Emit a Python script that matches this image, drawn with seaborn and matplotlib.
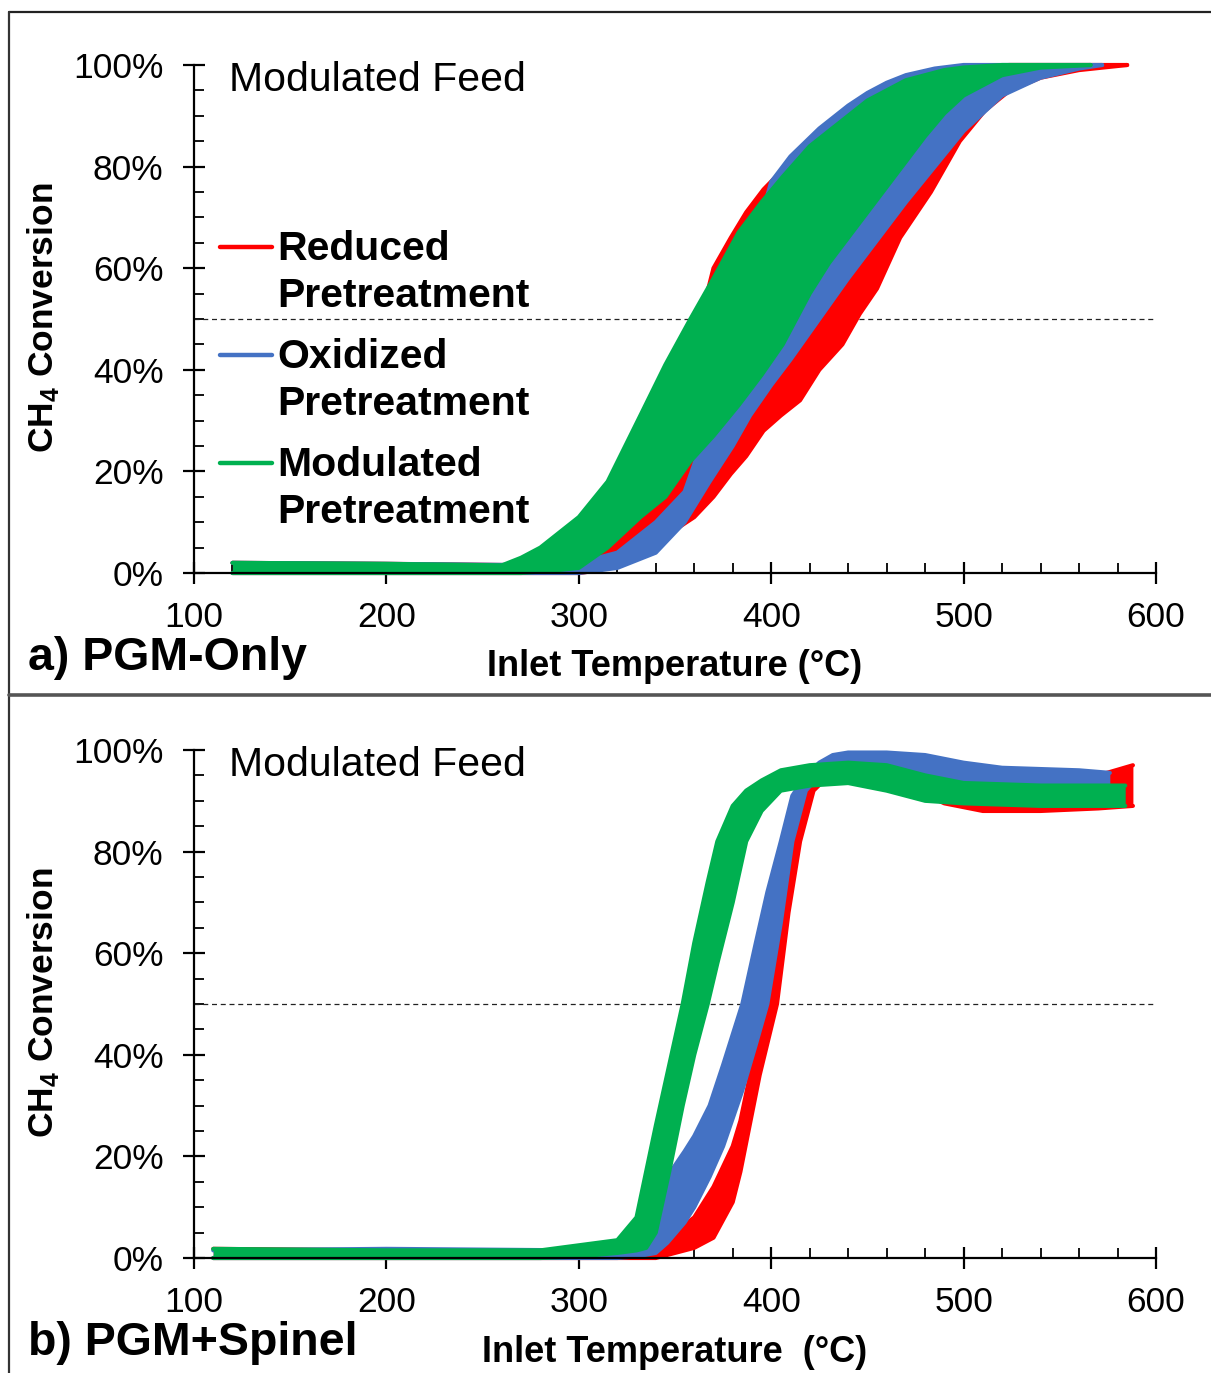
import numpy as np
import pandas as pd
import matplotlib
matplotlib.use("Agg")
import matplotlib.pyplot as plt
from matplotlib.lines import Line2D
from matplotlib.ticker import MultipleLocator, PercentFormatter
import seaborn as sns

# ---- data: CH4 conversion (%) under modulated feed, lower / upper envelope of the oscillation ----
# Panel a) PGM-only
a_red_T  = [120, 200, 280, 300, 310, 320, 330, 340, 350, 360, 370, 379, 387, 396, 405, 415, 425, 437, 446, 455, 467, 483, 498, 511, 524, 540, 560, 585]
a_red_lo = [0, 0, 0, 0, 0.5, 2, 4, 6, 8.5, 11, 15, 19.5, 23, 28, 31, 34, 40, 45, 51, 56, 66, 75, 85, 91, 95, 97.5, 99, 100]
a_red_hi = [2, 1.8, 1.5, 2, 4, 8, 12, 18, 30, 45, 60, 66, 71, 75.5, 79, 83, 86.5, 90, 92, 93.5, 96, 98, 99.3, 99.8, 100, 100, 100, 100]

a_blue_T  = [120, 200, 290, 300, 320, 340, 355, 368, 380, 389, 400, 410, 425, 440, 450, 460, 470, 485, 500, 520, 540, 560, 572]
a_blue_lo = [0, 0, 0, 0, 1, 4, 10, 18, 25, 31, 37, 42, 50, 58, 63, 68, 73, 80, 87, 94, 97.5, 99.3, 100]
a_blue_hi = [2, 1.8, 1.5, 2, 4, 10, 16, 30, 48, 62, 77, 82, 87.5, 92, 94.5, 96.5, 98, 99.3, 100, 100, 100, 100, 100]

a_green_T  = [120, 200, 260, 270, 280, 290, 300, 315, 332, 345, 358, 370, 383, 395, 406, 420, 430, 440, 450, 460, 470, 480, 490, 500, 520, 540, 566]
a_green_lo = [0, 0, 0, 0, 0.3, 0.6, 1, 5, 11, 15, 22, 27, 33, 39, 45, 55, 61, 66, 71, 76, 81, 86, 90.5, 94, 98, 99.5, 100]
a_green_hi = [2, 1.8, 1.5, 3, 5, 8, 11, 18, 31, 41, 50, 58, 67, 73, 78, 84, 87, 90, 93, 95, 97, 98, 99, 99.5, 100, 100, 100]

# Panel b) PGM+Spinel
b_red_T  = [110, 200, 300, 330, 340, 350, 360, 370, 380, 384, 394, 403, 409, 415, 422, 430, 450, 470, 490, 510, 540, 570, 588]
b_red_lo = [0, 0, 0, 0, 0, 1, 2, 4, 11, 17, 36, 50, 68, 82, 92, 95, 94.5, 93, 89.5, 88, 88, 88.5, 89]
b_red_hi = [1.8, 1.5, 1.5, 1.5, 3, 5, 8, 14, 22, 27, 45, 60, 76, 88, 95, 98, 98.5, 97.5, 95.5, 95, 94.5, 95, 97]

b_blue_T  = [110, 200, 300, 320, 330, 340, 346, 355, 360, 368, 375, 385, 392, 398, 405, 411, 418, 425, 432, 440, 460, 480, 500, 520, 560, 576]
b_blue_lo = [0, 0, 0, 0, 0.3, 1, 3, 7, 10, 16, 22, 33, 42, 50, 66, 82, 92, 95, 96.5, 96.5, 96, 95, 93.5, 93, 92.5, 92]
b_blue_hi = [1.5, 1.8, 1.5, 2, 3, 10, 16, 21, 24, 30, 38, 50, 62, 72, 82, 91, 95, 97.5, 99, 99.5, 99.5, 99, 97.5, 96.5, 96, 95.5]

b_green_T  = [110, 200, 280, 300, 320, 330, 335, 340, 347, 354, 360, 367, 372, 380, 387, 395, 405, 420, 440, 460, 480, 500, 540, 584]
b_green_lo = [0, 0, 0, 0.3, 1, 1.5, 2, 5, 17, 30, 40, 50, 58, 70, 82, 88, 92, 93, 93.5, 92, 90, 89.5, 89, 89]
b_green_hi = [1.8, 1.5, 1.5, 2.5, 3.5, 8, 17, 26, 38, 50, 62, 74, 82, 89, 92, 94, 96, 97, 97.5, 97, 95, 93.5, 93, 93]

series_names = ["Reduced\nPretreatment", "Oxidized\nPretreatment", "Modulated\nPretreatment"]
series_colors = ["#FF0000", "#4472C4", "#00B050"]
panel_titles = ["a) PGM-Only", "b) PGM+Spinel"]
xlabels = ["Inlet Temperature (°C)", "Inlet Temperature  (°C)"]
feed_label = "Modulated Feed"

panels = [
    [(a_red_T, a_red_lo, a_red_hi), (a_blue_T, a_blue_lo, a_blue_hi), (a_green_T, a_green_lo, a_green_hi)],
    [(b_red_T, b_red_lo, b_red_hi), (b_blue_T, b_blue_lo, b_blue_hi), (b_green_T, b_green_lo, b_green_hi)],
]

# ---- styling ----
sns.set_theme(style="white")
plt.rcParams["font.family"] = ["Liberation Sans", "DejaVu Sans"]
plt.rcParams["mathtext.fontset"] = "custom"
plt.rcParams["mathtext.rm"] = "Liberation Sans"
plt.rcParams["mathtext.bf"] = "Liberation Sans:bold"
for key in ("text.color", "axes.labelcolor", "xtick.color", "ytick.color", "axes.edgecolor"):
    plt.rcParams[key] = "black"

W, H = 1211, 1373
fig = plt.figure(figsize=(W / 100, H / 100), dpi=100)

ax_left = 194 / W
ax_width = 962 / W
ax_height = 508 / H
bottoms = [1 - 573 / H, 1 - 1258 / H]

for p, (bands, bottom) in enumerate(zip(panels, bottoms)):
    ax = fig.add_axes([ax_left, bottom, ax_width, ax_height])
    ax.set_xlim(100, 600)
    ax.set_ylim(0, 100)

    # 50 % conversion guide
    ax.axhline(50, color="#222222", lw=0.9, ls=(0, (4, 3)), zorder=1)

    for (T, lo, hi), color, name in zip(bands, series_colors, series_names):
        df = pd.DataFrame({"T": T, "lo": lo, "hi": hi})
        ax.fill_between(df["T"], df["lo"], df["hi"], color=color, lw=0, zorder=2, clip_on=False)
        for col in ("lo", "hi"):
            sns.lineplot(data=df, x="T", y=col, ax=ax, color=color, lw=3.0,
                         estimator=None, sort=False, legend=False, zorder=2,
                         solid_capstyle="round", solid_joinstyle="round", clip_on=False)

    ax.set_xlabel("")
    ax.set_ylabel("")
    for s in ("top", "right"):
        ax.spines[s].set_visible(False)
    for s in ("left", "bottom"):
        ax.spines[s].set_color("black")
        ax.spines[s].set_linewidth(1.6)

    ax.xaxis.set_major_locator(MultipleLocator(100))
    ax.xaxis.set_minor_locator(MultipleLocator(20))
    ax.yaxis.set_major_locator(MultipleLocator(20))
    ax.yaxis.set_minor_locator(MultipleLocator(5))
    ax.yaxis.set_major_formatter(PercentFormatter(decimals=0))
    ax.tick_params(which="major", direction="inout", length=16, width=1.6, color="black",
                   labelsize=25.5, labelcolor="black")
    ax.tick_params(which="minor", direction="in", length=7, width=1.3, color="black")
    ax.tick_params(axis="y", which="major", pad=14, left=True)
    ax.tick_params(axis="x", which="major", pad=12, bottom=True)
    ax.tick_params(axis="both", which="minor", left=True, bottom=True)

    ax.text(118, 97, feed_label, fontsize=29.5, va="center", ha="left", color="black")

    if p == 0:
        # legend: short strokes beside two-line labels, first line level with the stroke
        for k, (color, name) in enumerate(zip(series_colors, series_names)):
            yl = [0.642, 0.429, 0.2165][k]
            ax.add_line(Line2D([0.027, 0.081], [yl, yl], transform=ax.transAxes,
                               color=color, lw=3.2, clip_on=False))
            ax.text(0.0863, yl + 0.033, name, transform=ax.transAxes, fontsize=29.5,
                    fontweight="bold", va="top", ha="left", linespacing=1.3,
                    color="black")

    top_px = 573 if p == 0 else 1258
    fig.text(675 / W, 1 - (top_px + 94) / H, xlabels[p], fontsize=26, fontweight="bold",
             ha="center", va="center", color="black")
    fig.text(28 / W, 1 - (top_px + 85) / H, panel_titles[p], fontsize=33.5, fontweight="bold",
             ha="left", va="center", color="black")
    fig.text(43 / W, 1 - (top_px - 255) / H, r"CH$_\mathbf{4}$ Conversion", fontsize=25.5,
             fontweight="bold", rotation=90, ha="center", va="center", color="black")

# outer frame and panel separator
fig.add_artist(Line2D([9 / W, 1], [1 - 12 / H, 1 - 12 / H], color="#222222", lw=1.6))
fig.add_artist(Line2D([9 / W, 9 / W], [0, 1 - 12 / H], color="#333333", lw=1.6))
fig.add_artist(Line2D([9 / W, 1], [1 - 695 / H, 1 - 695 / H], color="#555555", lw=2.6))

fig.savefig("out.png", dpi=100, facecolor="white")
